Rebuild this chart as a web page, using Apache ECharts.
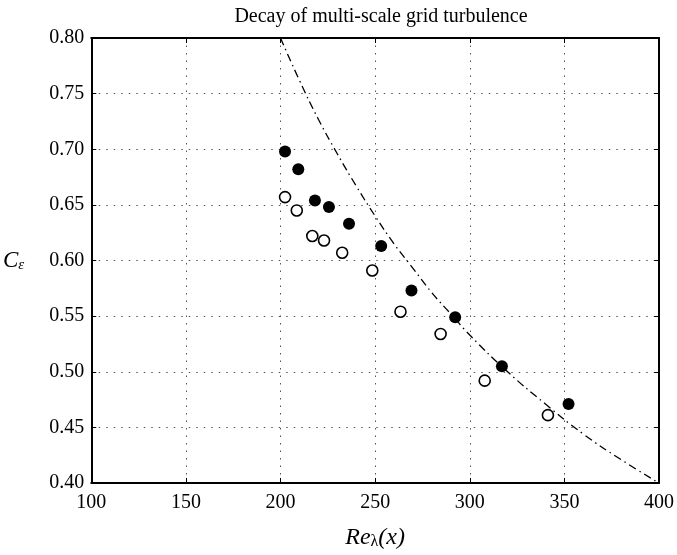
<!DOCTYPE html>
<html>
<head>
<meta charset="utf-8">
<script src="https://cdn.jsdelivr.net/npm/echarts@6/dist/echarts.min.js"></script>
<style>html,body{margin:0;padding:0;background:#fff}#c{width:677px;height:555px}</style>
</head>
<body>
<div id="c"></div>
<script>
// Data
var reFilled = [202.4, 209.4, 218.2, 225.6, 236.2, 253.2, 269.2, 292.3, 317.0, 352.2];
var ceFilled = [0.698, 0.682, 0.654, 0.648, 0.633, 0.613, 0.573, 0.549, 0.505, 0.471];
var reOpen = [202.4, 208.6, 216.8, 223.0, 232.6, 248.5, 263.4, 284.6, 307.9, 341.3];
var ceOpen = [0.657, 0.645, 0.622, 0.618, 0.607, 0.591, 0.554, 0.534, 0.492, 0.461];
var curveRe = [200, 210, 220, 230, 240, 250, 260, 270, 280, 290, 300, 320, 340, 360, 380, 400];
var curveCe = [0.800, 0.762, 0.727, 0.696, 0.667, 0.640, 0.615, 0.593, 0.571, 0.552, 0.533, 0.500, 0.471, 0.444, 0.421, 0.400];
var titleText = 'Decay of multi-scale grid turbulence';

function zip(a, b) { return a.map(function (v, i) { return [v, b[i]]; }); }

var font = '"Liberation Serif", "Times New Roman", serif';
var gridLine = { show: true, lineStyle: { color: '#555', type: [1.5, 6], width: 1 } };

var chart = echarts.init(document.getElementById('c'), null, { renderer: 'canvas' });
chart.setOption({
  animation: false,
  backgroundColor: '#fff',
  title: {
    text: titleText, left: 376, top: 2, textAlign: 'center',
    textStyle: { fontFamily: font, fontSize: 20, fontWeight: 'normal', color: '#000' }
  },
  grid: { left: 90, right: 16, top: 38, bottom: 66, containLabel: false },
  xAxis: [{
    type: 'value', min: 100, max: 400, interval: 50,
    name: '{i|Re}{s|λ}{i|(x)}', nameLocation: 'middle', nameGap: 42,
    nameTextStyle: { rich: {
      i: { fontFamily: font, fontStyle: 'italic', fontSize: 24, color: '#000' },
      s: { fontFamily: font, fontSize: 16, color: '#000', verticalAlign: 'bottom', padding: [9, 0, 0, 0] }
    } },
    axisLine: { show: true, lineStyle: { color: '#000', width: 2 } },
    axisTick: { show: true, inside: true, length: 5, lineStyle: { color: '#000', width: 1 } },
    axisLabel: { fontFamily: font, fontSize: 20, color: '#000', margin: 10 },
    splitLine: gridLine
  }, {
    type: 'value', position: 'top', min: 100, max: 400, interval: 50,
    axisLine: { show: true, lineStyle: { color: '#000', width: 2 } },
    axisTick: { show: true, inside: true, length: 5, lineStyle: { color: '#000', width: 1 } },
    axisLabel: { show: false }, splitLine: { show: false }
  }],
  yAxis: [{
    type: 'value', min: 0.4, max: 0.8, interval: 0.05,
    name: '{i|C}{s|ε}', nameLocation: 'middle', nameGap: 67, nameRotate: 0,
    nameTextStyle: { rich: {
      i: { fontFamily: font, fontStyle: 'italic', fontSize: 23, color: '#000' },
      s: { fontFamily: font, fontStyle: 'italic', fontSize: 15, color: '#000', verticalAlign: 'bottom', padding: [9, 0, 0, 0] }
    } },
    axisLine: { show: true, lineStyle: { color: '#000', width: 2 } },
    axisTick: { show: true, inside: true, length: 5, lineStyle: { color: '#000', width: 1 } },
    axisLabel: { fontFamily: font, fontSize: 20, color: '#000', margin: 7,
      formatter: function (v) { return v.toFixed(2); } },
    splitLine: gridLine
  }, {
    type: 'value', position: 'right', min: 0.4, max: 0.8, interval: 0.05,
    axisLine: { show: true, lineStyle: { color: '#000', width: 2 } },
    axisTick: { show: true, inside: true, length: 5, lineStyle: { color: '#000', width: 1 } },
    axisLabel: { show: false }, splitLine: { show: false }
  }],
  series: [{
    type: 'line', data: zip(curveRe, curveCe), smooth: true, symbol: 'none',
    lineStyle: { color: '#000', width: 1.3, type: [8, 4, 1.5, 4] }, z: 1
  }, {
    type: 'scatter', data: zip(reOpen, ceOpen), symbol: 'circle', symbolSize: 11,
    itemStyle: { color: '#fff', borderColor: '#000', borderWidth: 1.6, opacity: 1 }, z: 3
  }, {
    type: 'scatter', data: zip(reFilled, ceFilled), symbol: 'circle', symbolSize: 12,
    itemStyle: { color: '#000', borderColor: '#000', borderWidth: 0, opacity: 1 }, z: 3
  }]
});
</script>
</body>
</html>
